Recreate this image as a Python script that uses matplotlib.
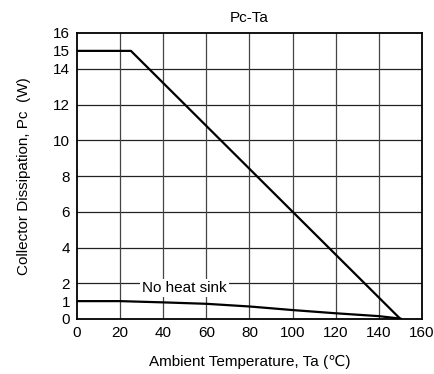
import matplotlib
matplotlib.use("Agg")
import matplotlib.pyplot as plt

plt.rcParams["font.family"] = ["Liberation Sans", "DejaVu Sans"]

# heat sink curve (infinite heat sink)
ta_hs = [0, 25, 150]
pc_hs = [15, 15, 0]

# no heat sink curve
ta_nhs = [0, 20, 40, 60, 80, 100, 120, 140, 150]
pc_nhs = [1.0, 1.0, 0.93, 0.85, 0.7, 0.5, 0.32, 0.16, 0.02]

xticks = [0, 20, 40, 60, 80, 100, 120, 140, 160]
yticks = [0, 1, 2, 4, 6, 8, 10, 12, 14, 15, 16]
ygrid = [2, 4, 6, 8, 10, 12, 14]
xgrid = [20, 40, 60, 80, 100, 120, 140]

fig = plt.figure(figsize=(4.35, 3.74), dpi=100)
ax = fig.add_axes([77 / 435, 1 - 319 / 374, 345 / 435, 286 / 374])

for g in ygrid:
    ax.axhline(g, color="#222222", lw=0.9, zorder=1)
for g in xgrid:
    ax.axvline(g, color="#444444", lw=0.9, zorder=1)

ax.plot(ta_hs, pc_hs, color="black", lw=1.6, zorder=3)
ax.plot(ta_nhs, pc_nhs, color="black", lw=1.6, zorder=3)

ax.text(50, 1.75, "No heat sink", ha="center", va="center", fontsize=11,
        bbox=dict(facecolor="white", edgecolor="none", pad=1.5), zorder=2)

ax.set_xlim(0, 160)
ax.set_ylim(0, 16)
ax.set_xticks(xticks)
ax.set_yticks(yticks)
ax.tick_params(length=0, labelsize=11, pad=5)
for s in ax.spines.values():
    s.set_linewidth(1.3)

ax.set_title("Pc-Ta", fontsize=11, pad=8)
ax.set_xlabel("Ambient Temperature, Ta (\u2103)", fontsize=11, labelpad=11)
ax.set_ylabel("Collector Dissipation, Pc  (W)", fontsize=11, labelpad=16)

fig.savefig("out.png", dpi=100)
